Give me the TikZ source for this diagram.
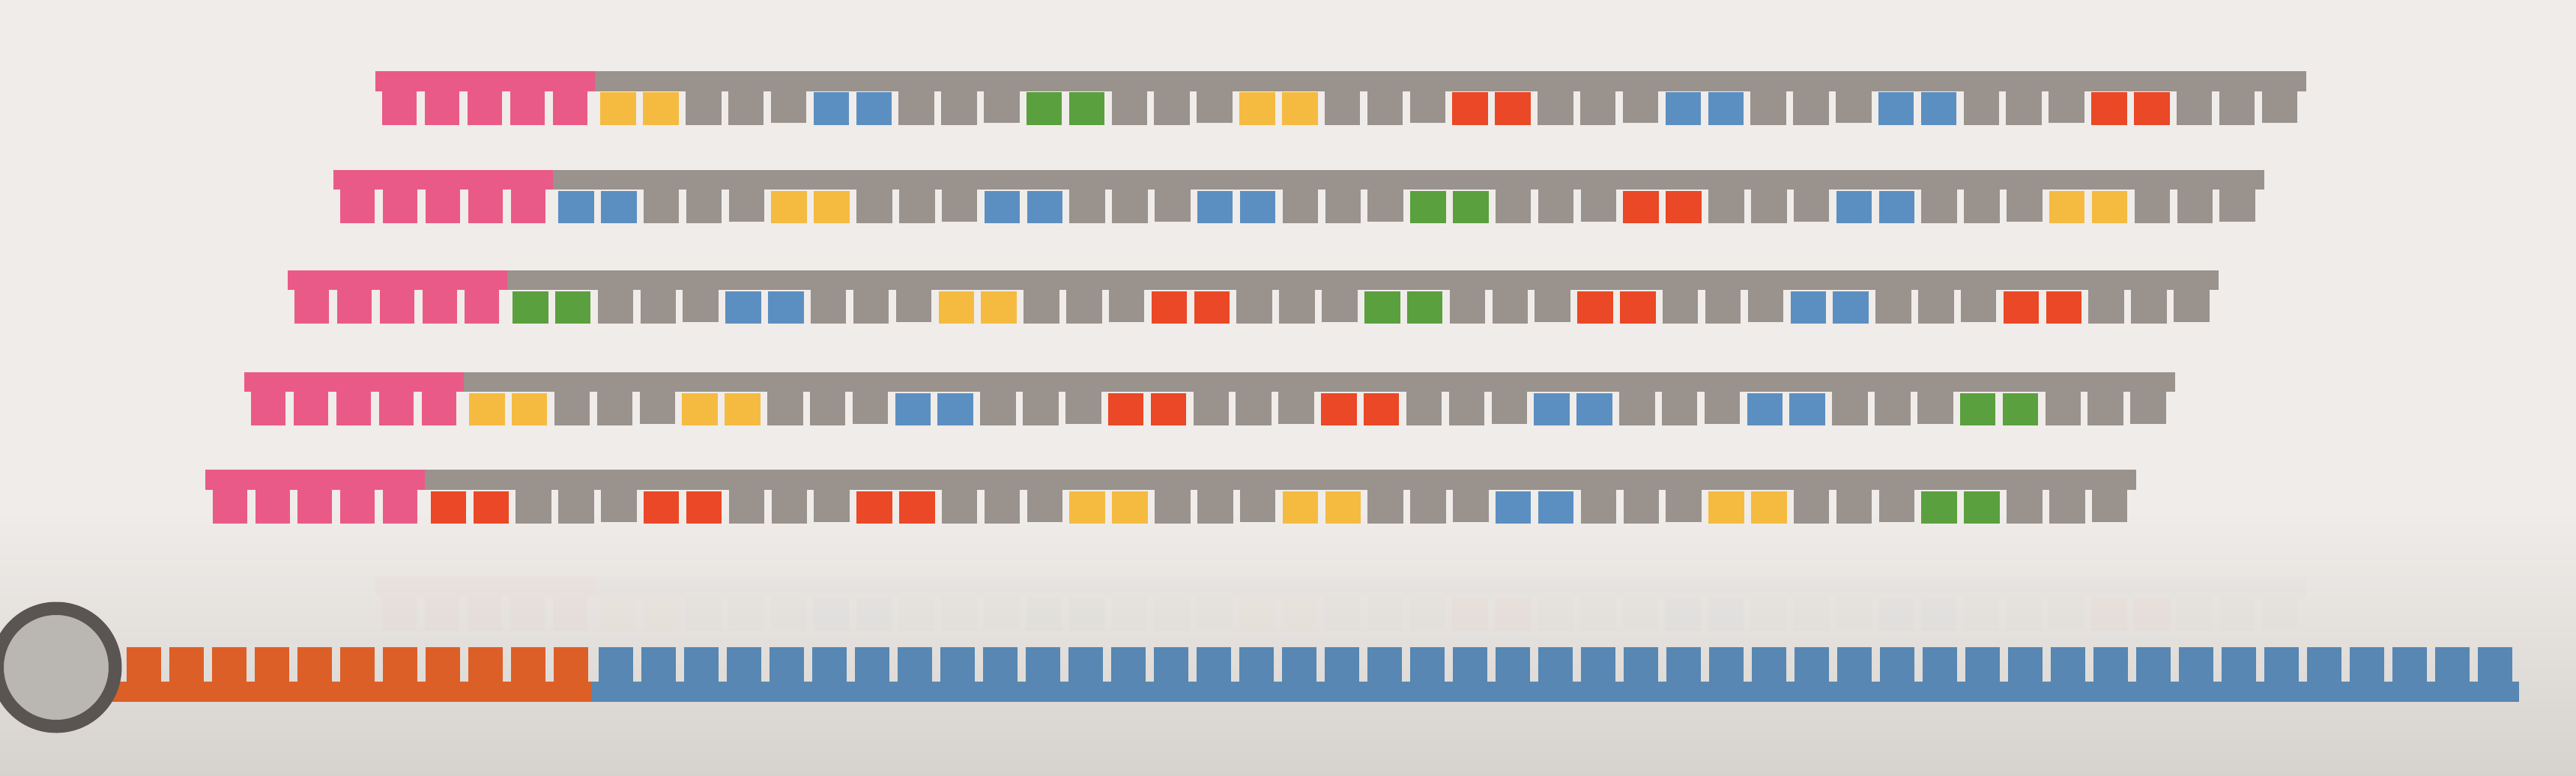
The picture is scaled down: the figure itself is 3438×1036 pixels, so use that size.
\documentclass[tikz,border=0pt]{standalone}
\definecolor{bgtop}{HTML}{F0ECE9}
\definecolor{bgbot}{HTML}{D6D2CE}
\definecolor{pinkc}{HTML}{EA5A88}
\definecolor{greyc}{HTML}{9A928D}
\definecolor{yelc}{HTML}{F5BB41}
\definecolor{bluec}{HTML}{5C8FC1}
\definecolor{greenc}{HTML}{5AA03E}
\definecolor{redc}{HTML}{EA4826}
\definecolor{orangec}{HTML}{DC5F28}
\definecolor{bblue}{HTML}{5787B2}
\definecolor{ringc}{HTML}{5A5552}
\definecolor{ringfill}{HTML}{BAB7B2}
\newcommand{\toprow}[4]{%
  \begin{scope}[shift={(#1,#2)}, opacity=#4]
    \fill[pinkc] (501,95) rectangle (794,121.7);
    \fill[greyc] (794,95) rectangle (3078,121.7);
    \foreach \k in {0,...,4}
      \fill[pinkc] ({510.4+\k*56.85},121.7) rectangle ++(46,45);
    \foreach \c [count=\g from 0] in {#3} {
      \foreach \p in {0,...,4} {
        \pgfmathsetmacro{\xx}{801.4+(\g*5+\p)*56.85}
        \ifnum\p<2
          \fill[\c] (\xx,123.3) rectangle ++(47.5,43.4);
        \else\ifnum\p=4
          \fill[greyc] (\xx,121.7) rectangle ++(47.5,42.5);
        \else
          \fill[greyc] (\xx,121.7) rectangle ++(47.5,45);
        \fi\fi
      }
    }
  \end{scope}}
\begin{document}
\begin{tikzpicture}[x=0.01cm,y=-0.01cm]
\useasboundingbox (0,0) rectangle (3438,1036);
\fill[bgtop] (0,0) rectangle (3438,1036);
\shade[top color=bgtop,bottom color=bgbot] (0,680) rectangle (3438,1036);
% five top strands
\toprow{0}{0}{yelc,bluec,greenc,yelc,redc,bluec,bluec,redc}{1}
\toprow{-56.2}{131.7}{bluec,yelc,bluec,bluec,greenc,redc,bluec,yelc}{1}
\toprow{-117.4}{265.7}{greenc,bluec,yelc,redc,greenc,redc,bluec,redc}{1}
\toprow{-175.3}{401.7}{yelc,yelc,bluec,redc,redc,bluec,bluec,greenc}{1}
\toprow{-226.7}{532.3}{redc,redc,redc,yelc,yelc,bluec,yelc,greenc}{1}
% faint ghost above the bottom strand
\toprow{0}{675}{yelc,bluec,greenc,yelc,redc,bluec,bluec,redc}{0.025}
% bottom strand
\fill[orangec] (150,910) rectangle (789.3,936.7);
\fill[bblue] (789.3,910) rectangle (3361.6,936.7);
\foreach \k in {0,...,10}
  \fill[orangec] ({169.3+\k*57.0},864) rectangle ++(46,46);
\foreach \k in {0,...,44}
  \fill[bblue] ({799+\k*57.0},864) rectangle ++(46,46);
% ring
\draw[ringc, fill=ringfill, line width=0.175cm] (75,891) circle [radius=78.75];
\end{tikzpicture}
\end{document}
